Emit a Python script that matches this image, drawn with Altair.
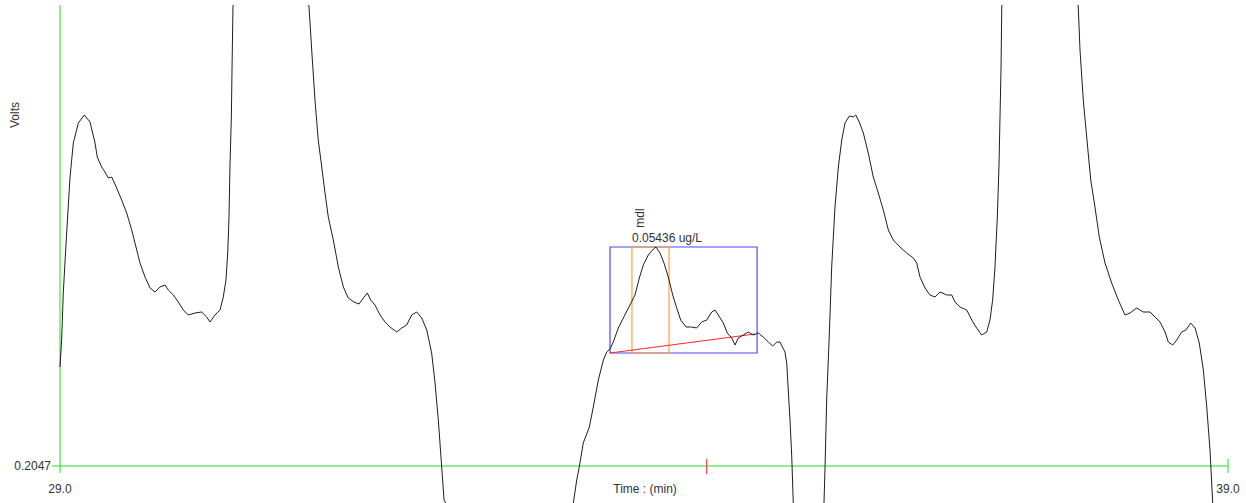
import altair as alt
import pandas as pd

# ---- chromatogram trace (time in min, signal in volts) ----
time_min = [
    29.000, 29.015, 29.028, 29.057, 29.086, 29.114, 29.157, 29.208, 29.257, 29.300,
    29.319, 29.357, 29.385, 29.414, 29.443, 29.485, 29.528, 29.571, 29.614, 29.642,
    29.685, 29.728, 29.771, 29.813, 29.856, 29.899, 29.927, 29.970, 30.013, 30.056,
    30.098, 30.156, 30.213, 30.256, 30.284, 30.327, 30.370, 30.398, 30.421, 30.436,
    30.447, 30.455, 30.467, 30.473, 30.481, 30.800,
    31.132, 31.155, 31.183, 31.211, 31.241, 31.269, 31.297, 31.340, 31.383, 31.426,
    31.468, 31.517, 31.560, 31.597, 31.631, 31.660, 31.697, 31.740, 31.783, 31.825,
    31.883, 31.926, 31.968, 32.011, 32.054, 32.097, 32.140, 32.182, 32.211, 32.239,
    32.268, 32.288, 32.840,
    33.395, 33.424, 33.446, 33.480, 33.532, 33.566, 33.609, 33.652, 33.681, 33.709,
    33.737, 33.780, 33.823, 33.880, 33.923, 33.960, 33.994, 34.037, 34.080, 34.103,
    34.137, 34.171, 34.208, 34.246, 34.280, 34.314, 34.360, 34.408, 34.451, 34.494,
    34.537, 34.580, 34.608, 34.636, 34.679, 34.713, 34.751, 34.779, 34.807, 34.850,
    34.893, 34.936, 34.979, 35.021, 35.064, 35.102, 35.136, 35.164, 35.207, 35.222,
    35.235, 35.250, 35.265, 35.278, 35.420,
    35.541, 35.550, 35.564, 35.587, 35.607, 35.635, 35.664, 35.693, 35.721, 35.758,
    35.792, 35.813, 35.843, 35.878, 35.920, 35.963, 36.006, 36.049, 36.092, 36.134,
    36.192, 36.249, 36.306, 36.335, 36.363, 36.406, 36.449, 36.491, 36.534, 36.592,
    36.634, 36.663, 36.705, 36.763, 36.806, 36.848, 36.891, 36.934, 36.962, 36.985,
    37.005, 37.025, 37.039, 37.048, 37.057, 37.063, 37.400,
    37.718, 37.733, 37.761, 37.795, 37.825, 37.861, 37.898, 37.947, 38.004, 38.061,
    38.118, 38.161, 38.218, 38.275, 38.332, 38.375, 38.418, 38.461, 38.489, 38.527,
    38.561, 38.604, 38.640, 38.681, 38.718, 38.754, 38.789, 38.818, 38.846, 38.869,
    38.880,
]
volts = [
    0.2146, 0.2176, 0.2220, 0.2280, 0.2336, 0.2370, 0.2390, 0.2398, 0.2391, 0.2370,
    0.2356, 0.2346, 0.2341, 0.2335, 0.2336, 0.2325, 0.2313, 0.2300, 0.2283, 0.2270,
    0.2250, 0.2236, 0.2225, 0.2221, 0.2226, 0.2228, 0.2223, 0.2218, 0.2211, 0.2203,
    0.2198, 0.2200, 0.2201, 0.2196, 0.2191, 0.2198, 0.2203, 0.2216, 0.2233, 0.2260,
    0.2296, 0.2346, 0.2396, 0.2446, 0.2506, 0.2750,
    0.2506, 0.2463, 0.2413, 0.2373, 0.2346, 0.2320, 0.2296, 0.2273, 0.2246, 0.2226,
    0.2215, 0.2211, 0.2209, 0.2215, 0.2220, 0.2213, 0.2208, 0.2198, 0.2191, 0.2186,
    0.2181, 0.2185, 0.2188, 0.2198, 0.2201, 0.2195, 0.2183, 0.2160, 0.2130, 0.2093,
    0.2046, 0.2013, 0.1900,
    0.2010, 0.2033, 0.2046, 0.2070, 0.2086, 0.2106, 0.2133, 0.2153, 0.2161, 0.2164,
    0.2171, 0.2185, 0.2195, 0.2208, 0.2218, 0.2235, 0.2248, 0.2258, 0.2264, 0.2266,
    0.2260, 0.2250, 0.2236, 0.2218, 0.2205, 0.2193, 0.2186, 0.2186, 0.2185, 0.2191,
    0.2193, 0.2201, 0.2203, 0.2198, 0.2190, 0.2180, 0.2175, 0.2168, 0.2175, 0.2178,
    0.2181, 0.2178, 0.2180, 0.2176, 0.2171, 0.2167, 0.2171, 0.2171, 0.2161, 0.2150,
    0.2123, 0.2093, 0.2056, 0.2010, 0.1950,
    0.2010, 0.2046, 0.2113, 0.2180, 0.2246, 0.2306, 0.2346, 0.2373, 0.2390, 0.2397,
    0.2396, 0.2398, 0.2391, 0.2380, 0.2360, 0.2336, 0.2320, 0.2303, 0.2283, 0.2273,
    0.2266, 0.2260, 0.2255, 0.2250, 0.2236, 0.2225, 0.2218, 0.2216, 0.2221, 0.2218,
    0.2218, 0.2211, 0.2206, 0.2203, 0.2193, 0.2185, 0.2178, 0.2181, 0.2193, 0.2213,
    0.2246, 0.2296, 0.2346, 0.2396, 0.2446, 0.2506, 0.2750,
    0.2506, 0.2463, 0.2413, 0.2370, 0.2333, 0.2306, 0.2276, 0.2250, 0.2230, 0.2213,
    0.2198, 0.2200, 0.2205, 0.2201, 0.2201, 0.2196, 0.2191, 0.2181, 0.2171, 0.2168,
    0.2173, 0.2181, 0.2183, 0.2190, 0.2185, 0.2170, 0.2143, 0.2106, 0.2063, 0.2010,
    0.1990,
]

# ---- axis / range values ----
time_start, time_end = 29.0, 39.0
volts_min_label = 0.2047
cursor_time = 34.537

# ---- peak integration annotation ----
peak_name = "mdl"
peak_amount = "0.05436 ug/L"
window_start, window_end = 33.709, 34.968
peak_start, peak_end = 33.897, 34.214
window_low, window_high = 0.2160, 0.2266
baseline_t = [33.709, 34.950]
baseline_v = [0.2160, 0.2179]

FONT = "Liberation Sans"
TXT = "#333333"
GREEN = "#22dd22"

xs = alt.Scale(domain=[28.4863, 39.1541], nice=False, zero=False)
ys = alt.Scale(domain=[0.2010, 0.2508], nice=False, zero=False)


def X(f="t"):
    return alt.X(f"{f}:Q", scale=xs, axis=None)


def Y(f="v"):
    return alt.Y(f"{f}:Q", scale=ys, axis=None)


trace = pd.DataFrame({"t": time_min, "v": volts})
line = alt.Chart(trace).mark_line(color="#1e1e1e", strokeWidth=1, clip=True).encode(
    x=X(), y=Y(), order=alt.Order("t:Q")
)

rules_df = pd.DataFrame({
    "t":  [time_start, 28.932, time_end, cursor_time],
    "t2": [time_start, time_end, time_end, cursor_time],
    "v":  [0.2040, volts_min_label, 0.2040, 0.2039],
    "v2": [0.2508, volts_min_label, 0.2054, 0.2054],
    "c":  [GREEN, GREEN, GREEN, "#ff2020"],
})
rules = alt.Chart(rules_df).mark_rule(strokeWidth=1).encode(
    x=X(), x2="t2:Q", y=Y(), y2="v2:Q", color=alt.Color("c:N", scale=None)
)

boxes_df = pd.DataFrame({
    "t": [window_start, peak_start], "t2": [window_end, peak_end],
    "v": [window_low, window_low], "v2": [window_high, window_high],
    "c": ["#4a4aff", "#ffa33a"],
})
boxes = alt.Chart(boxes_df).mark_rect(fillOpacity=0, strokeWidth=1.2).encode(
    x=X(), x2="t2:Q", y=Y(), y2="v2:Q", stroke=alt.Stroke("c:N", scale=None)
)

base_df = pd.DataFrame({"t": [baseline_t[0]], "t2": [baseline_t[1]],
                        "v": [baseline_v[0]], "v2": [baseline_v[1]]})
baseline = alt.Chart(base_df).mark_rule(color="#ff2a2a", strokeWidth=1.2).encode(
    x=X(), x2="t2:Q", y=Y(), y2="v2:Q"
)


def label(text, t, v, **kw):
    df = pd.DataFrame({"t": [t], "v": [v], "s": [text]})
    return alt.Chart(df).mark_text(font=FONT, fontSize=12, color=TXT, **kw).encode(
        x=X(), y=Y(), text="s:N"
    )


labels = [
    label(f"{volts_min_label:.4f}", time_start, volts_min_label, align="right", baseline="middle", dx=-9),
    label(f"{time_start:.1f}", time_start, volts_min_label, align="center", baseline="middle", dy=23),
    label(f"{time_end:.1f}", time_end, volts_min_label, align="center", baseline="middle", dy=23),
    label("Time : (min)", 34.009, volts_min_label, align="center", baseline="middle", dy=23),
    label("Volts", 28.615, 0.2398, align="center", baseline="middle", angle=270),
    label(peak_amount, peak_start, window_high, align="left", baseline="bottom", dy=-2),
    label(peak_name, 33.966, 0.2295, align="center", baseline="middle", angle=270),
]

chart = alt.layer(rules, boxes, baseline, line, *labels).properties(
    width=1246,
    height=498,
    padding={"top": 5, "left": 0, "right": 0, "bottom": 0},
    autosize=alt.AutoSizeParams(type="none"),
    background="white",
).configure_view(stroke=None)

chart.save("out.html", embed_options={"renderer": "svg", "actions": False})
